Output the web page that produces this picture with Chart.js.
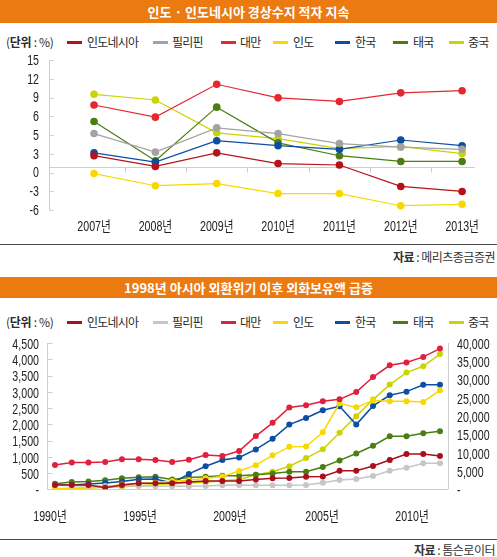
<!DOCTYPE html>
<html><head><meta charset="utf-8">
<script src="https://cdn.jsdelivr.net/npm/chart.js@4.4.1/dist/chart.umd.min.js"></script>
<style>
html,body{margin:0;padding:0;background:#fff;}
body{width:497px;height:557px;position:relative;overflow:hidden;font-family:'Noto Sans CJK KR','Noto Sans',sans-serif;color:#333;}
.banner{position:absolute;left:0;width:497px;background:#eb7a11;color:#fff;font-weight:bold;font-size:13px;text-align:center;}
.lg{position:absolute;font-size:12px;letter-spacing:-0.8px;white-space:nowrap;line-height:14px;color:#2a2a2a;}
.mk{position:absolute;width:15px;height:3px;}
.rule{position:absolute;left:0;width:497px;height:1px;background:#4d4d4d;}
.src{position:absolute;right:2px;font-size:12px;line-height:14px;letter-spacing:-0.5px;color:#333;}
canvas{position:absolute;left:0;}
</style></head>
<body>
<div class="banner" style="top:0;height:23px;line-height:24px;">인도 · 인도네시아 경상수지 적자 지속</div>
<div id="leg1"></div>
<canvas id="c1" width="497" height="190" style="top:50px"></canvas>
<div class="rule" style="top:244px"></div>
<div class="src" style="top:250px"><b>자료</b> : 메리츠종금증권</div>

<div class="banner" style="top:277px;height:21px;line-height:21px;">1998년 아시아 외환위기 이후 외화보유액 급증</div>
<div id="leg2"></div>
<canvas id="c2" width="497" height="200" style="top:330px"></canvas>
<div class="rule" style="top:539px"></div>
<div class="src" style="top:543px"><b>자료</b> : 톰슨로이터</div>

<script>
// ---------- data ----------
const seriesNames = ['인도네시아','필리핀','대만','인도','한국','태국','중국'];

// Chart 1: current account balance (% of GDP)
const years1 = ['2007년','2008년','2009년','2010년','2011년','2012년','2013년'];
const yTickLabels1 = ['-6','-3','0','3','5','6','9','12','15'];
const ca_indonesia  = [1.6, 0.1, 2.0, 0.5, 0.3, -2.7, -3.4];
const ca_philippines= [4.7, 2.1, 5.5, 4.7, 3.3, 2.8, 2.5];
const ca_taiwan     = [8.7, 7.0, 11.6, 9.7, 9.2, 10.4, 10.7];
const ca_india      = [-0.9, -2.6, -2.3, -3.7, -3.7, -5.4, -5.2];
const ca_korea      = [2.0, 0.7, 3.7, 3.0, 2.5, 3.8, 3.0];
const ca_thailand   = [6.4, 0.9, 8.4, 3.4, 1.6, 0.8, 0.8];
const ca_china      = [10.2, 9.4, 4.8, 4.0, 2.6, 2.9, 1.9];

// Chart 2: FX reserves
const xLabels2 = ['1990년','1995년','2009년','2005년','2010년'];
const fx_indonesia  = [1170,1170,1170,450,1170,1640,1640,1640,2000,2250,2300,2300,2700,3000,3100,3450,3500,5080,5080,6360,8000,9630,9630,9090];
const fx_philippines= [1100,1000,900,900,1000,900,800,800,800,900,1100,1200,1100,1100,1100,1200,1800,2540,2810,3630,5080,5900,7100,7100];
const fx_taiwan     = [6630,7300,7300,7450,8190,8230,8040,7450,8100,9360,9130,10450,14550,18180,22380,23000,24100,24600,26600,30700,33900,34650,36200,38480];
const fx_india      = [100,200,350,700,1300,1600,1800,2300,2500,3000,3500,5000,6600,9300,11600,11700,15600,23500,22400,24300,24100,24100,23900,27100];
const fx_korea      = [1250,1150,1450,1700,2150,2750,2800,1700,4200,6300,8000,8700,10900,13800,17700,19500,21600,22700,17700,22800,25700,26700,28600,28600];
const fx_thailand   = [1500,2000,2100,2500,3000,3300,3400,2700,3200,3450,3700,3700,3950,4350,4800,4800,6100,7900,9800,11900,14500,14500,15300,15900];
const fx_china      = [20,30,40,60,80,110,150,170,190,220,260,300,450,540,710,960,1230,1740,2250,2760,3220,3590,3785,4160]; // left axis

// ---------- styles ----------
const colors1 = ['#b5121b','#a3a3a3','#e8262d','#f7d900','#0b4ea2','#4b7d12','#c9d400'];
const colors2 = ['#a8101c','#c6c6c6','#e0203c','#f7d900','#0b4ea2','#4b7d12','#c9d400'];
const axisColor = '#cfcfcf';
const NUM_FONT = "14px 'Liberation Sans','Noto Sans CJK KR',sans-serif";
const SQUEEZE = 0.76;

function buildLegend(id, top, colors){
  const el = document.getElementById(id);
  const mkX = [67,153,221,273,335,393,449];
  const txX = [87,172,240,293,355,413,468];
  let h = '<div class="lg" style="left:6px;top:'+(top-7)+'px;letter-spacing:-0.3px">(<b>단위</b> : %)</div>';
  seriesNames.forEach((n,i)=>{
    h += '<div class="mk" style="left:'+mkX[i]+'px;top:'+(top-1)+'px;background:'+colors[i]+'"></div>';
    h += '<div class="lg" style="left:'+txX[i]+'px;top:'+(top-7)+'px">'+n+'</div>';
  });
  el.innerHTML = h;
}
buildLegend('leg1', 42, colors1);
buildLegend('leg2', 322, colors2);

function line(ctx,x1,y1,x2,y2){ctx.beginPath();ctx.moveTo(x1,y1);ctx.lineTo(x2,y2);ctx.stroke();}
function drawText(ctx,text,x,y,align){
  ctx.save(); ctx.translate(x,y); ctx.scale(SQUEEZE,1);
  ctx.font = NUM_FONT; ctx.fillStyle = '#222'; ctx.textAlign = align; ctx.textBaseline = 'middle';
  ctx.fillText(text,0,0); ctx.restore();
}
const hidden = {display:false};
const noGrid = {display:false, drawTicks:false};

const axes1 = {
  id:'axes1',
  beforeDatasetsDraw(chart){
    const {ctx, chartArea:a, scales:{x,y}} = chart;
    ctx.save(); ctx.strokeStyle = axisColor; ctx.lineWidth = 1;
    const lx = Math.round(a.left)+0.5;
    line(ctx,lx,a.top,lx,a.bottom);
    y.ticks.forEach(t=>{const py=Math.round(y.getPixelForValue(t.value))+0.5; line(ctx,lx,py,lx+4,py);});
    const y0 = Math.round(y.getPixelForValue(0))+0.5;
    line(ctx,a.left,y0,a.right,y0);
    for(let i=0;i<years1.length-1;i++){const px=Math.round(x.getPixelForValue(i+0.5))+0.5; line(ctx,px,y0,px,y0+5);}
    ctx.restore();
  },
  afterDraw(chart){
    const {ctx, chartArea:a, scales:{x,y}} = chart;
    y.ticks.forEach((t,i)=>drawText(ctx,yTickLabels1[i],a.left-10,y.getPixelForValue(t.value)+1,'right'));
    x.ticks.forEach((t,i)=>drawText(ctx,years1[i],x.getPixelForValue(t.value),a.bottom+17,'center'));
  }
};

const vals1 = [ca_indonesia,ca_philippines,ca_taiwan,ca_india,ca_korea,ca_thailand,ca_china];
new Chart(document.getElementById('c1'), {
  type:'line',
  data:{datasets: seriesNames.map((n,i)=>({
    label:n, data: vals1[i].map((v,j)=>({x:j,y:v})),
    borderColor:colors1[i], backgroundColor:colors1[i],
    pointBackgroundColor:colors1[i], pointBorderWidth:0, pointRadius:3.8,
    borderWidth:1.2, tension:0
  }))},
  options:{
    responsive:false, animation:false,
    layout:{padding:{top:10,right:22,left:0,bottom:0}},
    plugins:{legend:{display:false},tooltip:{enabled:false}},
    scales:{
      x:{type:'linear',min:-0.734,max:6.21,
         afterBuildTicks:s=>{s.ticks=years1.map((_,i)=>({value:i}));},
         ticks:hidden, grid:noGrid, border:hidden,
         afterFit:s=>{s.height=30;}},
      y:{min:-6,max:15,
         afterBuildTicks:s=>{s.ticks=yTickLabels1.map((_,k)=>({value:-6+k*21/(yTickLabels1.length-1)}));},
         ticks:hidden, grid:noGrid, border:hidden,
         afterFit:s=>{s.width=49;}}
    }
  },
  plugins:[axes1]
});

const xLabelPos2 = [-0.3,5.08,10.45,15.95,21.33];
const fmt = v => v===0 ? '-' : v.toLocaleString('en-US');
const axes2 = {
  id:'axes2',
  beforeDatasetsDraw(chart){
    const {ctx, chartArea:a, scales:{y}} = chart;
    ctx.save(); ctx.strokeStyle = axisColor; ctx.lineWidth = 1;
    const lx = Math.round(a.left)+0.5, rx = Math.round(a.right)+0.5, by = Math.round(a.bottom)+0.5;
    line(ctx,lx,a.top,lx,a.bottom);
    line(ctx,rx,a.top,rx,a.bottom);
    line(ctx,a.left,by,a.right,by);
    y.ticks.forEach(t=>{const py=Math.round(y.getPixelForValue(t.value))+0.5; line(ctx,lx,py,lx+5,py);});
    ctx.restore();
  },
  afterDraw(chart){
    const {ctx, chartArea:a, scales:{x,y,y2}} = chart;
    y.ticks.forEach(t=>drawText(ctx,fmt(t.value),a.left-8,y.getPixelForValue(t.value)+2,'right'));
    y2.ticks.forEach(t=>drawText(ctx,fmt(t.value),a.right+9,y2.getPixelForValue(t.value)+2,'left'));
    x.ticks.forEach((t,i)=>drawText(ctx,xLabels2[i],x.getPixelForValue(t.value),a.bottom+27.4,'center'));
  }
};

const vals2 = [fx_indonesia,fx_philippines,fx_taiwan,fx_india,fx_korea,fx_thailand,fx_china];
const axisOf2 = ['y2','y2','y2','y2','y2','y2','y'];
new Chart(document.getElementById('c2'), {
  type:'line',
  data:{datasets: seriesNames.map((n,i)=>({
    label:n, yAxisID:axisOf2[i], data: vals2[i].map((v,j)=>({x:j,y:v})),
    borderColor:colors2[i], backgroundColor:colors2[i],
    pointBackgroundColor:colors2[i], pointBorderWidth:0, pointRadius:3,
    borderWidth:1.5, tension:0
  }))},
  options:{
    responsive:false, animation:false,
    layout:{padding:{top:13,right:0,left:0,bottom:0}},
    plugins:{legend:{display:false},tooltip:{enabled:false}},
    scales:{
      x:{type:'linear',min:-0.478,max:23.48,
         afterBuildTicks:s=>{s.ticks=xLabelPos2.map(v=>({value:v}));},
         ticks:hidden, grid:noGrid, border:hidden,
         afterFit:s=>{s.height=40.7;}},
      y:{position:'left',min:0,max:4500,
         ticks:{display:false,stepSize:500}, grid:noGrid, border:hidden,
         afterFit:s=>{s.width=47;}},
      y2:{position:'right',min:0,max:40000,
         ticks:{display:false,stepSize:5000}, grid:noGrid, border:hidden,
         afterFit:s=>{s.width=49;}}
    }
  },
  plugins:[axes2]
});
</script>
</body></html>
